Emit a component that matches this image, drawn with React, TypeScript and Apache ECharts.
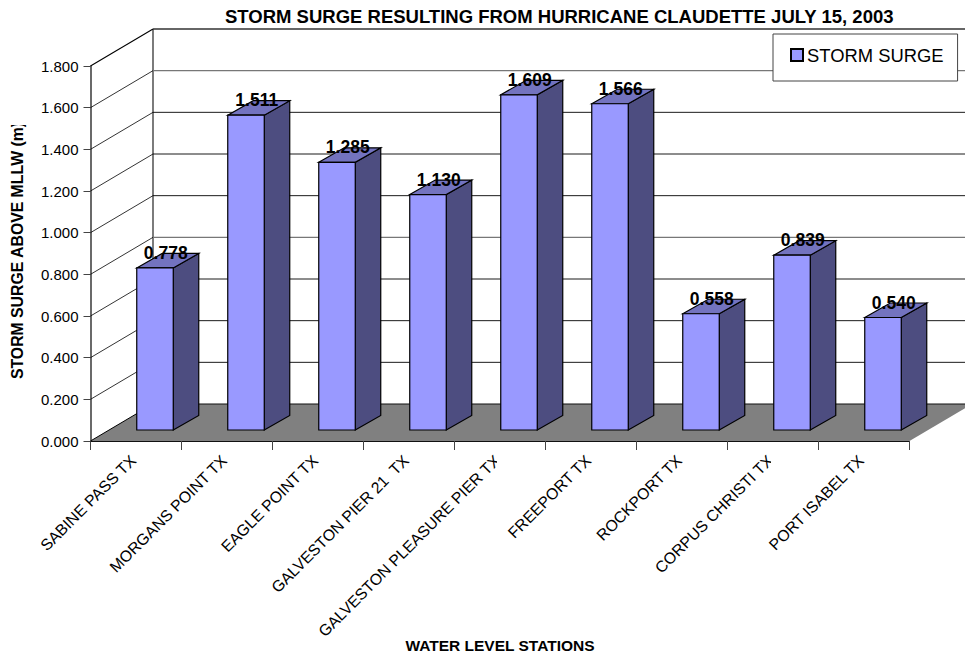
import React, { useEffect, useRef } from "react";
import * as echarts from "echarts";

const categories = [
  "SABINE PASS TX",
  "MORGANS POINT TX",
  "EAGLE POINT TX",
  "GALVESTON PIER 21  TX",
  "GALVESTON PLEASURE PIER TX",
  "FREEPORT TX",
  "ROCKPORT TX",
  "CORPUS CHRISTI TX",
  "PORT ISABEL TX",
];
const surge = [0.778, 1.511, 1.285, 1.13, 1.609, 1.566, 0.558, 0.839, 0.54];
const yTicks = [0, 0.2, 0.4, 0.6, 0.8, 1.0, 1.2, 1.4, 1.6, 1.8];

const FONT = "'Liberation Sans', Arial, sans-serif";
const WALL_DX = 62.5;
const WALL_DY = 37;
const BAR_OFF_X = 19;
const BAR_OFF_Y = 11;
const BAR_W = 36.5;
const BAR_DX = 25.5;
const BAR_DY = 14.5;

export default function App() {
  const ref = useRef<HTMLDivElement>(null);
  useEffect(() => {
    const chart = echarts.init(ref.current!, undefined, { renderer: "svg" });
    const line = (x1: number, y1: number, x2: number, y2: number, stroke: string, lineWidth: number) => ({
      type: "line",
      shape: { x1, y1, x2, y2 },
      style: { stroke, lineWidth },
      silent: true,
    });
    chart.setOption({
      animation: false,
      backgroundColor: "#fff",
      title: {
        text: "STORM SURGE RESULTING FROM HURRICANE CLAUDETTE JULY 15, 2003",
        left: 225,
        top: 7,
        padding: 0,
        textStyle: { fontFamily: FONT, fontSize: 18.5, fontWeight: "bold", color: "#000" },
      },
      legend: {
        data: ["STORM SURGE"],
        left: 773,
        top: 34,
        width: 184,
        orient: "horizontal",
        backgroundColor: "#fff",
        borderColor: "#444",
        borderWidth: 1,
        padding: [12, 14, 17, 17],
        itemWidth: 12,
        itemHeight: 12,
        itemGap: 0,
        icon: "rect",
        selectedMode: false,
        textStyle: { fontFamily: FONT, fontSize: 18.4, color: "#000", padding: [0, 0, 0, -1] },
      },
      grid: { left: 90.5, top: 66, width: 819, height: 375, containLabel: false, outerBoundsMode: "none" },
      xAxis: {
        type: "category",
        data: categories,
        name: "WATER LEVEL STATIONS",
        nameLocation: "middle",
        nameGap: 196,
        nameMoveOverlap: false,
        nameTextStyle: { fontFamily: FONT, fontSize: 15.5, fontWeight: "bold", color: "#000" },
        axisLine: { lineStyle: { color: "#111", width: 1.2 } },
        axisTick: { show: true, length: 9, alignWithLabel: false, lineStyle: { color: "#444", width: 1 } },
        axisLabel: {
          rotate: 45,
          interval: 0,
          margin: 14,
          padding: [0, 4, 0, 0],
          fontFamily: FONT,
          fontSize: 15.8,
          color: "#000",
          hideOverlap: false,
        },
        splitLine: { show: false },
      },
      yAxis: {
        type: "value",
        min: 0,
        max: 1.8,
        interval: 0.2,
        name: "STORM SURGE ABOVE MLLW (m)",
        nameLocation: "middle",
        nameGap: 65,
        nameRotate: 90,
        nameMoveOverlap: false,
        nameTextStyle: { fontFamily: FONT, fontSize: 15.8, fontWeight: "bold", color: "#000", padding: [0, 0, 0, 6] },
        axisLine: { show: true, lineStyle: { color: "#444", width: 1.6 } },
        axisTick: { show: true, length: 7, lineStyle: { color: "#444", width: 1 } },
        axisLabel: {
          margin: 12,
          padding: [0, 0, 2, 0],
          fontFamily: FONT,
          fontSize: 15,
          color: "#000",
          formatter: (v: number) => v.toFixed(3),
        },
        splitLine: { show: false },
      },
      graphic: [
        // Reference clips these labels at the plot's label boxes
        { type: "rect", z: 100, shape: { x: 497, y: 446, width: 11, height: 26 }, style: { fill: "#fff" } },
        { type: "rect", z: 100, shape: { x: 771, y: 446, width: 12, height: 26 }, style: { fill: "#fff" } },
        { type: "rect", z: 100, shape: { x: 5, y: 108, width: 22, height: 17 }, style: { fill: "#fff" } },
      ],
      series: [
        {
          type: "custom",
          name: "walls",
          coordinateSystem: "cartesian2d",
          silent: true,
          clip: false,
          z: 1,
          legendHoverLink: false,
          data: yTicks.map((t) => [0, t]),
          encode: { x: 0, y: 1 },
          renderItem: (params: any, api: any) => {
            const value = api.value(1) as number;
            const p = api.coord([0, value]);
            const x0 = p[0] - (api.size([1, 0])[0] as number) / 2;
            const y0 = p[1];
            const wx = x0 + WALL_DX;
            const wy = y0 - WALL_DY;
            const kids: any[] = [];
            const isTop = params.dataIndex === yTicks.length - 1;
            const grey = params.dataIndex % 4 === 0 && !isTop && value > 0;
            if (value === 0) {
              kids.push({
                type: "polygon",
                shape: { points: [[x0, y0], [wx, wy], [972, wy], [x0 + 819, y0]] },
                style: { fill: "#808080" },
              });
              kids.push(line(x0, y0, wx, wy, "#000", 1));
              kids.push(line(wx, wy, 966, wy, "#111", 1.2));
              kids.push(line(wx, wy, wx, wy - 375, "#444", 1.4));
            } else {
              kids.push(line(x0, y0, wx, wy, "#000", isTop ? 1.1 : 0.8));
              kids.push(line(wx, wy, 966, wy, isTop ? "#333" : grey ? "#777" : "#000", isTop ? 1.6 : grey ? 1.3 : 0.9));
            }
            return { type: "group", children: kids };
          },
        },
        {
          type: "custom",
          name: "STORM SURGE",
          coordinateSystem: "cartesian2d",
          clip: false,
          z: 3,
          itemStyle: { color: "#9999ff", borderColor: "#000", borderWidth: 1.2 },
          data: surge.map((v, i) => [i, v]),
          encode: { x: 0, y: 1 },
          renderItem: (params: any, api: any) => {
            const i = api.value(0);
            const v = api.value(1);
            const base = api.coord([i, 0]);
            const top = api.coord([i, v]);
            const xl = base[0] + BAR_OFF_X - BAR_W / 2;
            const xr = xl + BAR_W;
            const yb = base[1] - BAR_OFF_Y;
            const yt = top[1] - BAR_OFF_Y;
            const edge = { stroke: "#000", lineWidth: 1.2, lineJoin: "miter" };
            return {
              type: "group",
              children: [
                {
                  type: "polygon",
                  shape: { points: [[xr, yt], [xr + BAR_DX, yt - BAR_DY], [xr + BAR_DX, yb - BAR_DY], [xr, yb]] },
                  style: { fill: "#4d4d80", ...edge },
                },
                {
                  type: "polygon",
                  shape: { points: [[xl, yt], [xl + BAR_DX, yt - BAR_DY], [xr + BAR_DX, yt - BAR_DY], [xr, yt]] },
                  style: { fill: "#7373bf", ...edge },
                },
                { type: "rect", shape: { x: xl, y: yt, width: BAR_W, height: yb - yt }, style: { fill: "#9999ff", ...edge } },
                {
                  type: "text",
                  x: xl + 29,
                  y: yt - 15,
                  z2: 10,
                  style: {
                    text: (v as number).toFixed(3),
                    fontFamily: FONT,
                    fontSize: 17.5,
                    fontWeight: "bold",
                    fill: "#000",
                    align: "center",
                    verticalAlign: "middle",
                  },
                },
              ],
            };
          },
        },
      ],
    });
    return () => chart.dispose();
  }, []);
  return <div ref={ref} style={{ position: "fixed", left: 0, top: 0, width: 965, height: 656 }} />;
}
